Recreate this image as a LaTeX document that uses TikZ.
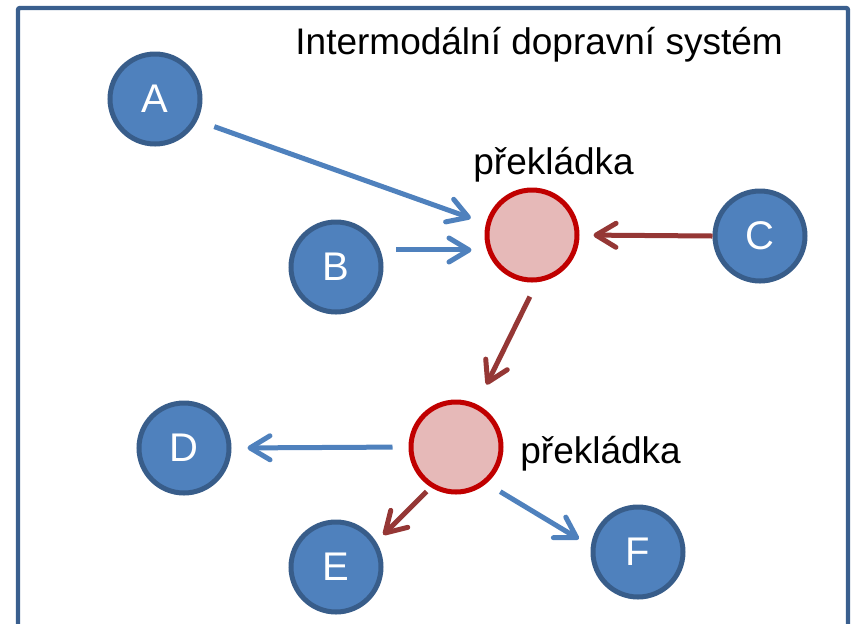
\documentclass[tikz,border=0pt]{standalone}
\usepackage{fontspec}
\setmainfont{Liberation Sans}
\usetikzlibrary{arrows.meta}

\definecolor{stopfill}{HTML}{4F81BD}
\definecolor{stopline}{HTML}{385D8A}
\definecolor{hubfill}{HTML}{E6B9B8}
\definecolor{hubline}{HTML}{C00000}
\definecolor{flowblue}{HTML}{4F81BD}
\definecolor{flowred}{HTML}{953735}
\definecolor{framecol}{HTML}{3A5F8E}

\tikzset{
  stopnode/.style={circle, minimum size=45pt, inner sep=0pt, fill=stopfill, draw=stopline, line width=2.5pt, text=white, font=\fontsize{20}{24}\selectfont},
  hubnode/.style={circle, minimum size=45pt, inner sep=0pt, fill=hubfill, draw=hubline, line width=2.5pt},
  caption/.style={inner sep=0pt, font=\fontsize{18.5}{22}\selectfont},
  blueflow/.style={draw=flowblue, line width=2.5pt, -{Straight Barb[length=10pt,width=12pt,round]}},
  redflow/.style={draw=flowred, line width=2.5pt, -{Straight Barb[length=10pt,width=12pt,round]}}
}

\begin{document}
\begin{tikzpicture}[x=0.5pt, y=-0.5pt]
\useasboundingbox (0,0) rectangle (852,623);
% Frame, open at the bottom
\draw[framecol, line width=2.2pt, rounded corners=1pt] (18,640) -- (18,8) -- (848,8) -- (848,640);
\node[caption, anchor=base west] (title) at (295,54) {Intermodální dopravní systém};

% Places
\node[stopnode] (A) at (155,99) {A};
\node[stopnode] (B) at (336,267) {B};
\node[stopnode] (C) at (760,236) {C};
\node[stopnode] (D) at (184,448) {D};
\node[stopnode] (E) at (336,567) {E};
\node[stopnode] (F) at (638,552) {F};

% Transfer points
\node[hubnode] (P1) at (532,235) {};
\node[hubnode] (P2) at (456,447) {};
\node[caption, anchor=base west] (P1label) at (473,174) {překládka};
\node[caption, anchor=base west] (P2label) at (520,463) {překládka};

% Flows
\draw[blueflow, shorten <=9pt, shorten >=8pt] (A.333) -- (P1.166);
\draw[blueflow, shorten <=8pt, shorten >=6.5pt] (B.21) -- (B.21 -| P1.west);
\draw[redflow, shorten >=7pt] (C.west) -- (P1.east);
\draw[redflow, shorten <=8pt, shorten >=11pt] (P1.276) -- (P2.64);
\draw[blueflow, shorten <=8pt, shorten >=8pt] (P2.west) -- (D.east);
\draw[redflow, shorten <=3pt, shorten >=5pt] (P2.238) -- (E.32);
\draw[blueflow, shorten <=8pt, shorten >=7pt] (P2.310) -- (F.173);
\end{tikzpicture}
\end{document}
